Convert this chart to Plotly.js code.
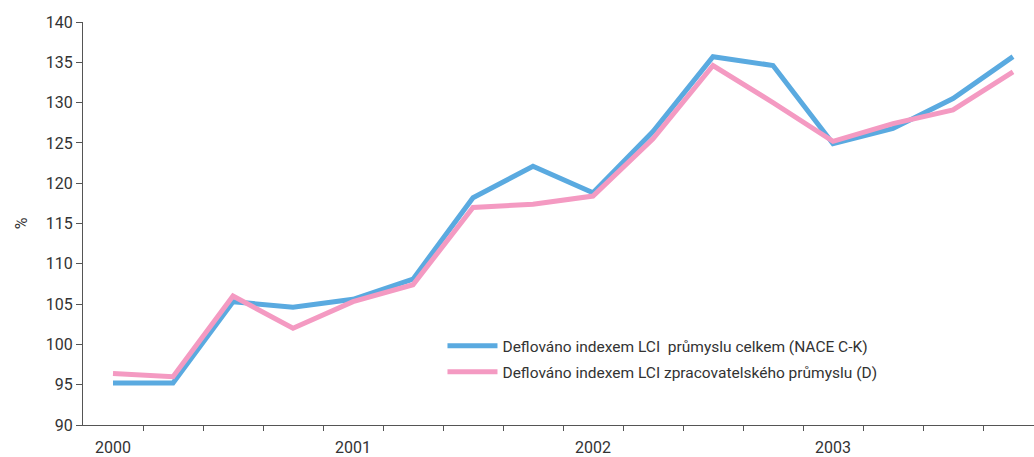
<!DOCTYPE html>
<html><head><meta charset="utf-8">
<script src="https://cdn.plot.ly/plotly-3.0.1.min.js"></script>
<style>html,body{margin:0;padding:0;background:#fff}#chart{width:1034px;height:457px}</style>
</head><body><div id="chart"></div>
<script>
// Quarters 2000 Q1 .. 2003 Q4
const quarters = [0,1,2,3,4,5,6,7,8,9,10,11,12,13,14,15];
const yearLabels = ["2000","2001","2002","2003"];
const yearPositions = [0,4,8,12];
const seriesNames = [
  "Deflováno indexem LCI  průmyslu celkem (NACE C-K)",
  "Deflováno indexem LCI zpracovatelského průmyslu (D)"
];
const totalIndustry = [95.2,95.2,105.3,104.6,105.6,108.1,118.2,122.1,118.8,126.4,135.7,134.6,124.9,126.8,130.5,135.7];
const manufacturing = [96.4,96.0,106.0,102.0,105.3,107.4,117.0,117.4,118.4,125.5,134.6,130.0,125.2,127.4,129.1,133.8];
const boundaryTicks = [0.5,1.5,2.5,3.5,4.5,5.5,6.5,7.5,8.5,9.5,10.5,11.5,12.5,13.5,14.5];

const FONT = "Roboto, 'Liberation Sans', sans-serif";
const xRange = [-0.5, -0.5 + 951/60];

const traces = [
  {x: quarters, y: totalIndustry, name: seriesNames[0], type: "scatter", mode: "lines",
   legendgroup: "a", line: {color: "#5aaae0", width: 5}},
  {x: quarters, y: manufacturing, name: seriesNames[1], type: "scatter", mode: "lines",
   legendgroup: "b", line: {color: "#f49ac2", width: 5}},
  {x: [xRange[0]], y: [null], xaxis: "x2", showlegend: false, hoverinfo: "skip"}
];

const layout = {
  width: 1034, height: 457,
  margin: {l: 83, r: 0, t: 22, b: 32, pad: 0},
  paper_bgcolor: "#fff", plot_bgcolor: "#fff",
  font: {family: FONT, size: 16, color: "#333"},
  showlegend: true,
  legend: {x: 0.378, y: 0.238, xanchor: "left", yanchor: "top",
           font: {family: FONT, size: 15.5, color: "#333"},
           bgcolor: "rgba(0,0,0,0)", tracegroupgap: 3, itemwidth: 50},
  xaxis: {range: xRange, showgrid: false, zeroline: false,
          showline: true, linecolor: "#555", linewidth: 1,
          tickmode: "array", tickvals: boundaryTicks, ticktext: boundaryTicks.map(() => ""),
          ticks: "outside", ticklen: 5, tickcolor: "#555", fixedrange: true},
  xaxis2: {overlaying: "x", side: "bottom", range: xRange, showgrid: false, zeroline: false,
           showline: false, tickmode: "array", tickvals: yearPositions, ticktext: yearLabels,
           ticks: "", ticklabelstandoff: 11, tickfont: {family: FONT, size: 16, color: "#333"}},
  yaxis: {range: [90, 140], tickmode: "linear", tick0: 90, dtick: 5,
          showgrid: false, zeroline: false, showline: true, linecolor: "#555", linewidth: 1,
          ticks: "outside", ticklen: 6, tickcolor: "#555",
          tickfont: {family: FONT, size: 16, color: "#333"},
          title: {text: "%", font: {family: FONT, size: 16, color: "#333"}, standoff: 14}}
};

Plotly.newPlot("chart", traces, layout, {displayModeBar: false, staticPlot: true});
</script>
</body></html>
